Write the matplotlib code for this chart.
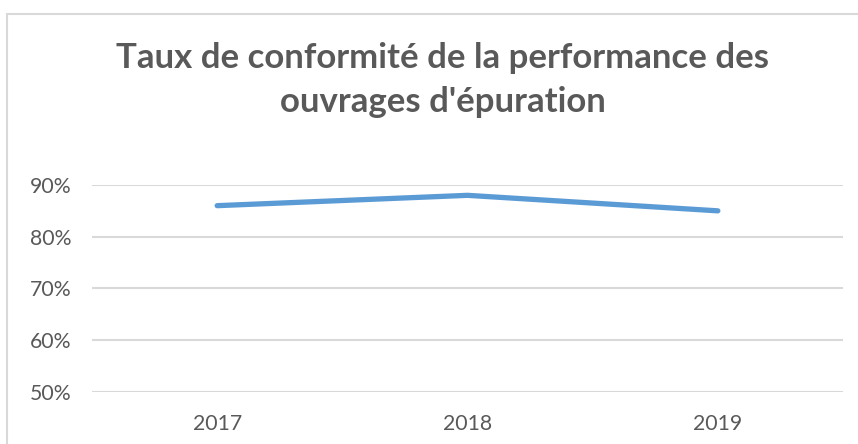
import matplotlib
matplotlib.use("Agg")
import matplotlib.pyplot as plt
from matplotlib.patches import Rectangle
from matplotlib.ticker import PercentFormatter

# data
years = ["2017", "2018", "2019"]
taux = [0.86, 0.88, 0.85]
y_ticks = [0.5, 0.6, 0.7, 0.8, 0.9]

title = "Taux de conformité de la performance des\nouvrages d'épuration"

plt.rcParams['font.family'] = ['Lato', 'DejaVu Sans']
gray = '#595959'

fig = plt.figure(figsize=(8.58, 4.44), dpi=100)
W, H = 858, 444

# chart border (cropped at right and bottom like the screenshot)
fig.patches.append(Rectangle((7 / W, -0.1), 1.2, (H - 14) / H + 0.1,
                             transform=fig.transFigure, fill=False,
                             edgecolor='#D9D9D9', linewidth=1.5))

ax = fig.add_axes([92 / W, 52.3 / H, 751 / W, (391.7 - 185) / H])
x = range(len(years))
ax.plot(x, taux, color='#5B9BD5', linewidth=3.8, solid_capstyle='round')

ax.set_xlim(-0.5, len(years) - 0.5)
ax.set_ylim(0.5, 0.9)
ax.set_yticks(y_ticks)
ax.yaxis.set_major_formatter(PercentFormatter(1.0, decimals=0))
ax.set_xticks(list(x))
ax.set_xticklabels(years)

ax.grid(axis='y', color='#D9D9D9', linewidth=1.5)
ax.set_axisbelow(True)
for s in ax.spines.values():
    s.set_visible(False)
ax.tick_params(axis='both', length=0, labelsize=15.3, labelcolor=gray)
ax.tick_params(axis='y', pad=15)
ax.tick_params(axis='x', pad=16)

fig.text(443 / W, 1 - 80 / H, title, ha='center', va='center',
         fontsize=25, fontweight='bold', color=gray, linespacing=1.45)

fig.savefig("out.png", dpi=100)
